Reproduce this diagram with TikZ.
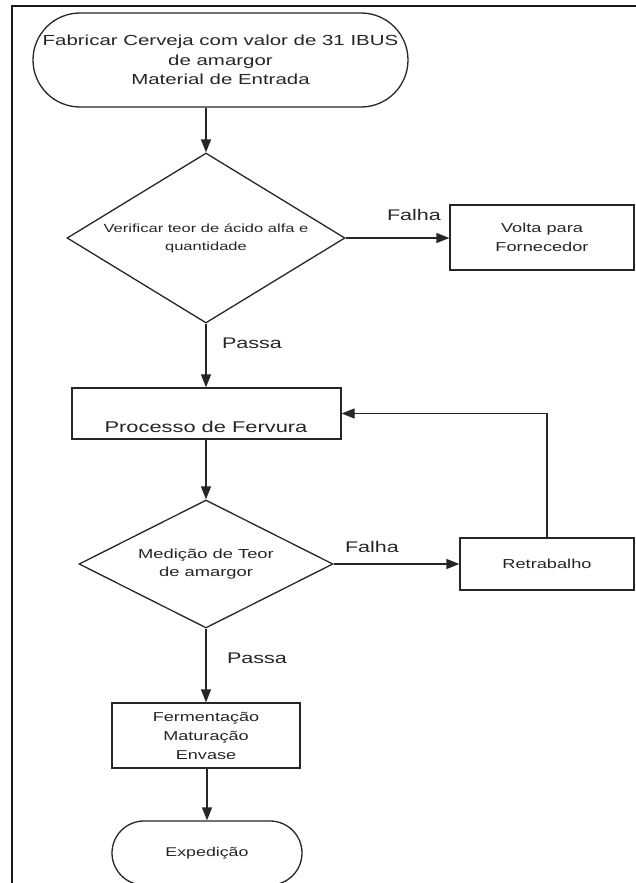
\documentclass[tikz,border=0pt]{standalone}
\usepackage{fontspec}
\setmainfont[FakeStretch=1.4]{Liberation Sans}
\usetikzlibrary{shapes.geometric,shapes.misc,arrows.meta}
\begin{document}
\begin{tikzpicture}[x=1pt,y=-1pt,
  line/.style={draw=black!85,line width=1.3pt},
  arr/.style={line,-{Triangle[length=13pt,width=10pt]}},
  term/.style={rounded rectangle,line,inner sep=0pt,align=center,text=black!85},
  box/.style={rectangle,line,inner sep=0pt,align=center,text=black!85},
  dec/.style={diamond,line,inner sep=0pt,align=center,text=black!85},
  lbl/.style={inner sep=0pt,text=black!85,font=\fontsize{15.4}{18}\selectfont},
  txt/.style={inner sep=0pt,text=black!85,align=center}]
\useasboundingbox (0,0) rectangle (636,883);
\fill[white] (0,0) rectangle (636,883);
\draw[line width=1.5pt,draw=black!90] (636,6) -- (12,6) -- (12,883);

\node[term,minimum width=375pt,minimum height=94pt,font=\fontsize{14.6}{19.5}\selectfont] (start) at (220.5,60)
  {Fabricar Cerveja com valor de 31 IBUS\\de amargor\\Material de Entrada};
\node[dec,minimum width=278pt,minimum height=170pt,aspect=1.6,font=\fontsize{11.8}{18}\selectfont] (d1) at (206,238)
  {Verificar teor de ácido alfa e\\quantidade};
\node[box,minimum width=184pt,minimum height=65pt,font=\fontsize{13}{19}\selectfont] (volta) at (542,237.5)
  {Volta para\\Fornecedor};
\node[box,minimum width=269pt,minimum height=51pt] (proc) at (206.5,413.5) {};
\node[txt,font=\fontsize{15.6}{18}\selectfont] (proct) at (206,427) {Processo de Fervura};
\node[dec,minimum width=254pt,minimum height=128pt,aspect=2,font=\fontsize{13.1}{18}\selectfont] (d2) at (206,564)
  {Medição de Teor\\de amargor};
\node[box,minimum width=174pt,minimum height=52pt,font=\fontsize{13}{18}\selectfont] (retr) at (547,564) {Retrabalho};
\node[box,minimum width=188pt,minimum height=65pt,font=\fontsize{12.9}{19}\selectfont] (ferm) at (206,735.5)
  {Fermentação\\Maturação\\Envase};
\node[term,minimum width=190pt,minimum height=64pt,font=\fontsize{12.7}{15}\selectfont] (exp) at (207,853) {Expedição};

\node[lbl] (f1) at (414,215) {Falha};
\node[lbl] (p1) at (252,343) {Passa};
\node[lbl] (f2) at (372,547) {Falha};
\node[lbl] (p2) at (257,658) {Passa};

\draw[arr] (d1.north |- start.south) -- (d1.north);
\draw[arr] (d1.east) -- (d1.east -| volta.west);
\draw[arr] (d1.south) -- (d1.south |- proc.north);
\draw[arr] (proc.south -| d2.north) -- (d2.north);
\draw[arr] (d2.east) -- (d2.east -| retr.west);
\draw[arr] (retr.north) |- (proc.east);
\draw[arr] (d2.south) -- (d2.south |- ferm.north);
\draw[arr] (ferm.south -| exp.north) -- (exp.north);
\end{tikzpicture}
\end{document}
